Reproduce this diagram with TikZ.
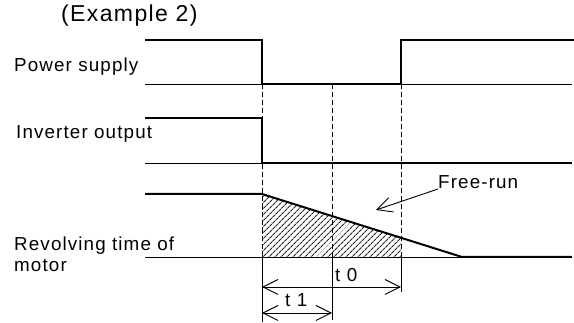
\documentclass[tikz,border=0pt]{standalone}
\usepackage{fontspec}
\setmainfont{Liberation Sans}[LetterSpace=6]
\usetikzlibrary{arrows.meta,patterns.meta}
\begin{document}
\begin{tikzpicture}[x=1pt,y=-1pt,
  wave/.style={line width=2pt},
  base/.style={line width=0.9pt},
  guide/.style={line width=0.8pt, dash pattern=on 5pt off 3pt},
  tick/.style={line width=0.9pt},
  lbl/.style={font=\fontsize{18.8}{21}\selectfont, inner sep=0pt, align=left},
  ttl/.style={font=\fontsize{23}{26}\selectfont, inner sep=0pt},
  barb/.tip={Straight Barb[length=15pt,width=15pt,line width=0.9pt]},
  dim/.style={line width=0.9pt, barb-barb},
  pointer/.style={line width=0.9pt, -barb}]
\useasboundingbox (0,0) rectangle (574,323);

% labels
\node[ttl, anchor=base west] (title) at (61,22) {(Example 2)};
\node[lbl, anchor=base west] (ps) at (14,72) {Power supply};
\node[lbl, anchor=base west] (io) at (16,139) {Inverter output};
\node[lbl, anchor=base west] (rv) at (14,251) {Revolving time of};
\node[lbl, anchor=base west] (mo) at (14,272) {motor};

% Power supply
\draw[base] (145,84) -- (262,84);
\draw[base] (401,84) -- (572,84);
\draw[wave] (145,40) -- (262,40) -- (262,84) -- (401,84) -- (401,40) -- (574,40);

% Inverter output
\draw[base] (145,163) -- (262,163);
\draw[wave] (145,118) -- (262,118) -- (262,163) -- (572,163);

% Motor
\fill[pattern={Lines[angle=45,distance=4pt,line width=1.2pt]}, pattern color=black!85] (262,194) -- (401,237.8) -- (401,257) -- (262,257) -- cycle;
\draw[base] (145,257) -- (462,257);
\draw[wave] (145,194) -- (262,194) -- (462,257) -- (572,257);

% guides
\draw[guide] (262,84) -- (262,257);
\draw[guide] (332,84) -- (332,257);
\draw[guide] (401,84) -- (401,257);
\draw[tick] (262,257) -- (262,322);
\draw[tick] (332,257) -- (332,320);
\draw[tick] (401,257) -- (401,292);

% dimensions
\coordinate (a0) at (262,287);
\coordinate (b0) at (401,287);
\coordinate (a1) at (262,313);
\coordinate (b1) at (332,313);
\draw[dim] (a0) -- (b0);
\draw[dim] (a1) -- (b1);
\node[lbl, anchor=base west] (t0) at (335,282) {t 0};
\node[lbl, anchor=base west] (t1) at (285,307) {t 1};

% free-run
\node[lbl, anchor=base west] (fr) at (438,189) {Free-run};
\coordinate (frtip) at (376,210);
\draw[pointer] (fr.base west) -- (frtip);
\end{tikzpicture}
\end{document}
